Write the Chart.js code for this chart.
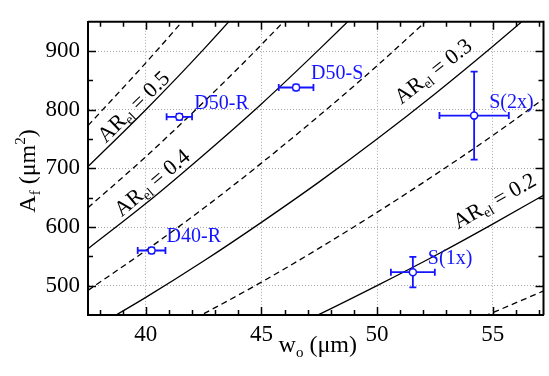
<!DOCTYPE html>
<html>
<head>
<meta charset="utf-8">
<script src="https://cdn.jsdelivr.net/npm/chart.js@4"></script>
<style>
html, body { margin: 0; padding: 0; background: #fff; }
#wrap { width: 549px; height: 376px; position: relative; }
</style>
</head>
<body>
<div id="wrap"><canvas id="chart"></canvas></div>
<script>
// ========================================
// Data
// ========================================
const X_TICKS = [40, 45, 50, 55];
const Y_TICKS = [500, 600, 700, 800, 900];

// w_o positions where the AR_el contour lines were sampled
const W_GRID = [37.5, 40, 42.5, 45, 47.5, 50, 52.5, 55, 57.5];

// A_f values of each AR_el contour at W_GRID
const AR_LEVELS = [0.15, 0.2, 0.25, 0.3, 0.35, 0.4, 0.45, 0.5, 0.55];
const AR_DASHED = [true, false, true, false, true, false, true, false, true];
const A_015 = [211, 240, 271, 304, 338, 375, 413, 454, 496];
const A_020 = [281, 320, 361, 405, 451, 500, 551, 605, 661];
const A_025 = [352, 400, 452, 506, 564, 625, 689, 756, 827];
const A_030 = [422, 480, 542, 608, 677, 750, 827, 908, 992];
const A_035 = [492, 560, 632, 709, 790, 875, 965, 1059, 1157];
const A_040 = [563, 640, 723, 810, 903, 1000, 1103, 1210, 1323];
const A_045 = [633, 720, 813, 911, 1015, 1125, 1240, 1361, 1488];
const A_050 = [703, 800, 903, 1013, 1128, 1250, 1378, 1513, 1653];
const A_055 = [773, 880, 993, 1114, 1241, 1375, 1516, 1664, 1818];
const AR_VALUES = [A_015, A_020, A_025, A_030, A_035, A_040, A_045, A_050, A_055];

// Measured samples with error bars
const POINT_LABELS = ['D50-R', 'D50-S', 'S(2x)', 'D40-R', 'S(1x)'];
const POINT_W = [41.45, 46.5, 54.2, 40.25, 51.55];
const POINT_A = [788, 838, 790, 560, 523];
const POINT_W_ERR = [0.55, 0.75, 1.5, 0.6, 0.95];
const POINT_A_ERR = [5, 5, 75, 5, 26];

// Contour labels
const AR_LABEL_TEXT = ['0.5', '0.4', '0.3', '0.2'];
const AR_LABEL_LEVEL_INDEX = [7, 5, 3, 1];
const AR_LABEL_W = [39.5, 40.3, 52.45, 55.1];
const AR_LABEL_A = [804, 674, 864, 643];

// ========================================
// Styles
// ========================================
const SERIF = "'Liberation Serif', 'Times New Roman', serif";
const BLUE = '#1414ff';

// ========================================
// Datasets
// ========================================
const pointDataset = {
    label: 'samples',
    data: POINT_W.map((w, i) => ({ x: w, y: POINT_A[i] })),
    showLine: false,
    pointStyle: 'circle',
    pointRadius: 3.5,
    pointBorderWidth: 1.5,
    pointBorderColor: BLUE,
    pointBackgroundColor: '#ffffff'
};

const curveDatasets = AR_LEVELS.map((ar, k) => ({
    label: 'AR ' + ar,
    data: W_GRID.map((w, i) => ({ x: w, y: AR_VALUES[k][i] })),
    showLine: true,
    borderColor: '#000',
    borderWidth: 1.3,
    borderDash: AR_DASHED[k] ? [6, 4] : [],
    pointRadius: 0,
    cubicInterpolationMode: 'monotone'
}));

// ========================================
// Helpers
// ========================================
function drawRich(ctx, parts, x, y) {
    // parts: [text, size, dy]
    let total = 0;
    parts.forEach(p => {
        ctx.font = p[1] + 'px ' + SERIF;
        total += ctx.measureText(p[0]).width;
    });
    let cx = x - total / 2;
    parts.forEach(p => {
        ctx.font = p[1] + 'px ' + SERIF;
        ctx.fillText(p[0], cx, y + p[2]);
        cx += ctx.measureText(p[0]).width;
    });
}

// ========================================
// Plugins
// ========================================
const errorBars = {
    id: 'errorBars',
    beforeDatasetDraw(chart, args) {
        if (args.index !== 0) return;
        const { ctx, scales: { x, y } } = chart;
        const cap = 3.5;
        ctx.save();
        ctx.strokeStyle = BLUE;
        ctx.lineWidth = 1.8;
        POINT_W.forEach((w, i) => {
            const px = x.getPixelForValue(w);
            const py = y.getPixelForValue(POINT_A[i]);
            const x1 = x.getPixelForValue(w - POINT_W_ERR[i]);
            const x2 = x.getPixelForValue(w + POINT_W_ERR[i]);
            const y1 = y.getPixelForValue(POINT_A[i] + POINT_A_ERR[i]);
            const y2 = y.getPixelForValue(POINT_A[i] - POINT_A_ERR[i]);
            ctx.beginPath();
            ctx.moveTo(x1, py); ctx.lineTo(x2, py);
            ctx.moveTo(x1, py - cap); ctx.lineTo(x1, py + cap);
            ctx.moveTo(x2, py - cap); ctx.lineTo(x2, py + cap);
            ctx.moveTo(px, y1); ctx.lineTo(px, y2);
            ctx.moveTo(px - cap, y1); ctx.lineTo(px + cap, y1);
            ctx.moveTo(px - cap, y2); ctx.lineTo(px + cap, y2);
            ctx.stroke();
        });
        ctx.restore();
    }
};

const annotations = {
    id: 'annotations',
    afterDatasetsDraw(chart) {
        const { ctx, scales: { x, y } } = chart;
        ctx.save();

        // sample names
        ctx.fillStyle = BLUE;
        ctx.font = '20px ' + SERIF;
        ctx.textAlign = 'left';
        ctx.textBaseline = 'alphabetic';
        POINT_LABELS.forEach((t, i) => {
            const px = x.getPixelForValue(POINT_W[i]);
            const py = y.getPixelForValue(POINT_A[i]);
            ctx.fillText(t, px + 15, py - 8);
        });

        // AR_el labels along the contours
        ctx.fillStyle = '#000';
        AR_LABEL_TEXT.forEach((t, n) => {
            const vals = AR_VALUES[AR_LABEL_LEVEL_INDEX[n]];
            const w = AR_LABEL_W[n];
            let i = 0;
            while (i < W_GRID.length - 2 && W_GRID[i + 1] <= w) i++;
            const dx = x.getPixelForValue(W_GRID[i + 1]) - x.getPixelForValue(W_GRID[i]);
            const dy = y.getPixelForValue(vals[i + 1]) - y.getPixelForValue(vals[i]);
            const ang = Math.atan2(dy, dx);
            ctx.save();
            ctx.translate(x.getPixelForValue(w), y.getPixelForValue(AR_LABEL_A[n]));
            ctx.rotate(ang);
            ctx.textBaseline = 'middle';
            drawRich(ctx, [['AR', 22, 0], ['el', 14, 6], [' = ' + t, 22, 0]], 0, 0);
            ctx.restore();
        });
        ctx.restore();
    },
    afterDraw(chart) {
        const { ctx, chartArea: a, scales: { x, y } } = chart;
        ctx.save();
        ctx.strokeStyle = '#000';

        // frame top / right
        ctx.lineWidth = 2;
        ctx.beginPath();
        ctx.moveTo(a.left, a.top); ctx.lineTo(a.right, a.top); ctx.lineTo(a.right, a.bottom);
        ctx.stroke();

        // inward ticks on all four sides
        ctx.lineWidth = 1.5;
        ctx.beginPath();
        for (let v = 38; v <= 57; v++) {
            const len = v % 5 === 0 ? 8 : 5;
            const px = Math.round(x.getPixelForValue(v)) + 0.5;
            ctx.moveTo(px, a.bottom); ctx.lineTo(px, a.bottom - len);
            ctx.moveTo(px, a.top); ctx.lineTo(px, a.top + len);
        }
        for (let v = 500; v <= 900; v += 50) {
            const len = v % 100 === 0 ? 8 : 5;
            const py = Math.round(y.getPixelForValue(v)) + 0.5;
            ctx.moveTo(a.left, py); ctx.lineTo(a.left + len, py);
            ctx.moveTo(a.right, py); ctx.lineTo(a.right - len, py);
        }
        ctx.stroke();

        // axis titles
        ctx.fillStyle = '#000';
        ctx.textAlign = 'left';
        ctx.textBaseline = 'alphabetic';
        drawRich(ctx, [['w', 24, 0], ['o', 15, 5], [' (\u03bcm)', 24, 0]], (a.left + a.right) / 2 + 2, 352);

        ctx.save();
        ctx.translate(35, 171);
        ctx.rotate(-Math.PI / 2);
        drawRich(ctx, [['A', 24, 0], ['f', 15, 5], [' (\u03bcm', 24, 0], ['2', 15, -10], [')', 24, 0]], 0, 0);
        ctx.restore();

        ctx.restore();
    }
};

// ========================================
// Chart
// ========================================
new Chart(document.getElementById('chart'), {
    type: 'scatter',
    data: { datasets: [pointDataset, ...curveDatasets] },
    options: {
        responsive: true,
        maintainAspectRatio: false,
        animation: false,
        devicePixelRatio: 1,
        layout: { padding: { left: 0, right: 5, top: 7, bottom: 0 } },
        plugins: {
            legend: { display: false },
            tooltip: { enabled: false }
        },
        scales: {
            x: {
                type: 'linear',
                min: 37.5,
                max: 57.2,
                afterBuildTicks: s => { s.ticks = X_TICKS.map(v => ({ value: v })); },
                afterFit: s => { s.height = 61; },
                ticks: {
                    font: { family: SERIF, size: 23 },
                    color: '#000',
                    padding: 6,
                    maxRotation: 0,
                    autoSkip: false
                },
                grid: { color: '#a8a8a8', lineWidth: 1, drawTicks: false },
                border: { display: true, color: '#000', width: 2, dash: [1, 2] }
            },
            y: {
                type: 'linear',
                min: 450,
                max: 950,
                afterBuildTicks: s => { s.ticks = Y_TICKS.map(v => ({ value: v })); },
                afterFit: s => { s.width = 88; },
                ticks: {
                    font: { family: SERIF, size: 23 },
                    color: '#000',
                    padding: 8,
                    autoSkip: false
                },
                grid: { color: '#a8a8a8', lineWidth: 1, drawTicks: false },
                border: { display: true, color: '#000', width: 2, dash: [1, 2] }
            }
        }
    },
    plugins: [errorBars, annotations]
});
</script>
</body>
</html>
